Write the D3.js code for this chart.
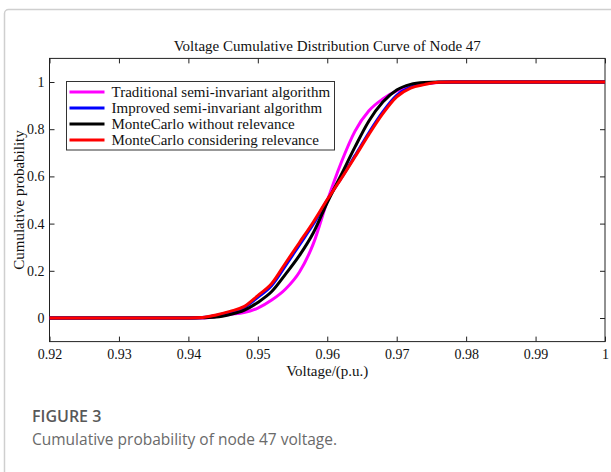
<!DOCTYPE html>
<html>
<head>
<meta charset="utf-8">
<script src="https://cdn.jsdelivr.net/npm/d3@7"></script>
<style>
  body { margin: 0; background: #fff; }
  svg { display: block; }
  .axis line { stroke: #222; }
</style>
</head>
<body>
<svg id="chart"></svg>
<script>
// voltage grid (p.u.) and the cumulative probability of each method
const voltage = [0.92, 0.93, 0.94, 0.942, 0.944, 0.946, 0.948, 0.95, 0.952, 0.954, 0.956, 0.958, 0.96,
  0.962, 0.964, 0.966, 0.968, 0.97, 0.972, 0.974, 0.976, 0.978, 0.98, 0.99, 1];
const traditional = [0, 0, 0, 0, 0.006, 0.015, 0.023, 0.042, 0.076, 0.123, 0.195, 0.315, 0.496,
  0.658, 0.792, 0.878, 0.928, 0.962, 0.979, 0.992, 0.998, 1, 1, 1, 1];
const improved = [0, 0, 0, 0.002, 0.011, 0.025, 0.044, 0.088, 0.138, 0.222, 0.31, 0.398, 0.5,
  0.592, 0.688, 0.785, 0.873, 0.943, 0.978, 0.992, 0.999, 1, 1, 1, 1];
const mcWithout = [0, 0, 0, 0.001, 0.004, 0.015, 0.032, 0.066, 0.112, 0.186, 0.265, 0.361, 0.489,
  0.606, 0.725, 0.835, 0.915, 0.966, 0.99, 0.998, 1, 1, 1, 1, 1];
const mcConsidering = [0, 0, 0, 0.002, 0.013, 0.028, 0.048, 0.095, 0.146, 0.233, 0.32, 0.407, 0.502,
  0.59, 0.683, 0.778, 0.866, 0.937, 0.974, 0.989, 0.999, 1, 1, 1, 1];

const seriesNames = ['Traditional semi-invariant algorithm', 'Improved semi-invariant algorithm',
  'MonteCarlo without relevance', 'MonteCarlo considering relevance'];
const seriesColors = ['#ff00ff', '#0000ff', '#000000', '#ff0000'];

const xTicks = [0.92, 0.93, 0.94, 0.95, 0.96, 0.97, 0.98, 0.99, 1];
const xTickLabels = ['0.92', '0.93', '0.94', '0.95', '0.96', '0.97', '0.98', '0.99', '1'];
const yTicks = [0, 0.2, 0.4, 0.6, 0.8, 1];
const yTickLabels = ['0', '0.2', '0.4', '0.6', '0.8', '1'];

const serif = '"Liberation Serif", "Times New Roman", serif';
const width = 611, height = 472;
const margin = {top: 58.4, right: 6, bottom: 130.4, left: 49.5};
const innerW = width - margin.left - margin.right;
const innerH = height - margin.top - margin.bottom;

const svg = d3.select('#chart').attr('width', width).attr('height', height);

// light page frame around the figure
svg.append('rect')
  .attr('x', 4.5).attr('y', 9.5)
  .attr('width', 700).attr('height', 600)
  .attr('rx', 4)
  .attr('fill', 'none')
  .attr('stroke', '#cfcfcf')
  .attr('stroke-width', 1.5);

const chart = svg.append('g').attr('transform', `translate(${margin.left},${margin.top})`);

const x = d3.scaleLinear().domain([0.92, 1]).range([0, innerW]);
const y = d3.scaleLinear().domain([-0.1, 1.1]).range([innerH, 0]);

const styleAxis = g => g
  .attr('font-family', serif)
  .attr('font-size', 14)
  .call(g => g.select('.domain').remove())
  .call(g => g.selectAll('text').attr('fill', '#111'));

// axes, MATLAB style: inward ticks on all four sides
chart.append('g').attr('class', 'axis')
  .attr('transform', `translate(0,${innerH})`)
  .call(d3.axisBottom(x).tickValues(xTicks).tickSizeInner(-5).tickSizeOuter(0).tickPadding(7)
    .tickFormat((d, i) => xTickLabels[i]))
  .call(styleAxis);
chart.append('g').attr('class', 'axis')
  .call(d3.axisTop(x).tickValues(xTicks).tickSizeInner(-5).tickSizeOuter(0).tickFormat(''))
  .call(styleAxis);
chart.append('g').attr('class', 'axis')
  .call(d3.axisLeft(y).tickValues(yTicks).tickSizeInner(-5).tickSizeOuter(0).tickPadding(5)
    .tickFormat((d, i) => yTickLabels[i]))
  .call(styleAxis);
chart.append('g').attr('class', 'axis')
  .attr('transform', `translate(${innerW},0)`)
  .call(d3.axisRight(y).tickValues(yTicks).tickSizeInner(-5).tickSizeOuter(0).tickFormat(''))
  .call(styleAxis);

chart.append('rect')
  .attr('width', innerW).attr('height', innerH)
  .attr('fill', 'none').attr('stroke', '#222').attr('stroke-width', 1);

const allSeries = [traditional, improved, mcWithout, mcConsidering];
const line = d3.line()
  .x((d, i) => x(voltage[i]))
  .y(d => y(d))
  .curve(d3.curveMonotoneX);

chart.selectAll('.curve')
  .data(allSeries)
  .join('path')
  .attr('class', 'curve')
  .attr('d', d => line(d))
  .attr('fill', 'none')
  .attr('stroke', (d, i) => seriesColors[i])
  .attr('stroke-width', 3)
  .attr('stroke-linejoin', 'round');

// titles
svg.append('text')
  .attr('x', margin.left + innerW / 2)
  .attr('y', 51)
  .attr('text-anchor', 'middle')
  .attr('font-family', serif)
  .attr('font-size', 15)
  .attr('fill', '#111')
  .text('Voltage Cumulative Distribution Curve of Node 47');

svg.append('text')
  .attr('x', margin.left + innerW / 2)
  .attr('y', 376)
  .attr('text-anchor', 'middle')
  .attr('font-family', serif)
  .attr('font-size', 15)
  .attr('fill', '#111')
  .text('Voltage/(p.u.)');

svg.append('text')
  .attr('transform', `translate(24,${margin.top + y(0.5)}) rotate(-90)`)
  .attr('text-anchor', 'middle')
  .attr('font-family', serif)
  .attr('font-size', 15)
  .attr('fill', '#111')
  .text('Cumulative probability');

// legend
const legend = chart.append('g').attr('transform', `translate(${66.5 - margin.left},${81.5 - margin.top})`);
legend.append('rect')
  .attr('width', 268).attr('height', 68.5)
  .attr('fill', '#fff').attr('stroke', '#333').attr('stroke-width', 1);
const rows = legend.selectAll('.legend-row')
  .data(seriesNames)
  .join('g')
  .attr('class', 'legend-row')
  .attr('transform', (d, i) => `translate(0,${10.5 + i * 16})`);
rows.append('line')
  .attr('x1', 3).attr('x2', 38)
  .attr('stroke', (d, i) => seriesColors[i])
  .attr('stroke-width', 3);
rows.append('text')
  .attr('x', 45)
  .attr('dy', '0.35em')
  .attr('font-family', serif)
  .attr('font-size', 15)
  .attr('fill', '#111')
  .text(d => d);

// figure caption
svg.append('text')
  .attr('x', 32)
  .attr('y', 422)
  .attr('font-family', '"Open Sans", "Noto Sans", sans-serif')
  .attr('font-size', 16)
  .attr('font-weight', 600)
  .attr('fill', '#585858')
  .text('FIGURE 3');
svg.append('text')
  .attr('x', 32)
  .attr('y', 445)
  .attr('font-family', '"Open Sans", "Noto Sans", sans-serif')
  .attr('font-size', 15.5)
  .attr('fill', '#6a6a6a')
  .text('Cumulative probability of node 47 voltage.');
</script>
</body>
</html>
